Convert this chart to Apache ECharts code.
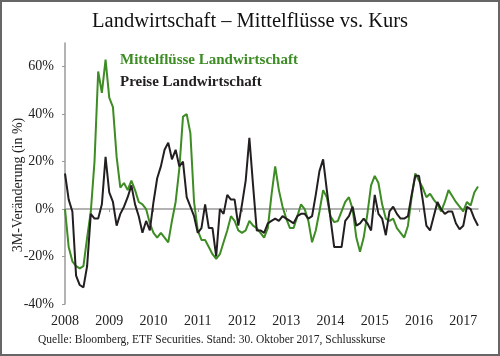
<!DOCTYPE html>
<html>
<head>
<meta charset="utf-8">
<script src="https://cdn.jsdelivr.net/npm/echarts@6/dist/echarts.min.js"></script>
<style>
html,body{margin:0;padding:0;background:#fff;}
#c{width:500px;height:356px;}
</style>
</head>
<body>
<div id="c"></div>
<script>
// Years shown on the x axis (monthly data from Jan 2008)
var years = ['2008','2009','2010','2011','2012','2013','2014','2015','2016','2017'];
// Tick labels of the y axis (percent)
var yTicks = [-40, -20, 0, 20, 40, 60];
// 3M change of fund flows, agriculture (%), monthly
var mittelfluesse = [
  0,-16,-22,-24,-25,-24,-12,-1,20,58,49,63,
  47,43,22,9,11,8,12,8,3,2,0,-6,
  -10,-12,-10,-12,-14,-5,3,17,39,40,32,3,
  -9,-13,-13,-16,-19,-21,-19,-14,-9,-3,-5,-9,
  -10,-9,-5,-7,-8,-10,-12,-8,6,18,8,1,
  -4,-8,-8,-3,2,0,-5,-14,-9,-1,8,5,
  -3,-5.5,-5,-1,3,5,0,-12,-18,-12,-2,10,
  14,11,2,-4,-5,-4,-8,-10,-12,-7,5,15,
  12,9,5,6.5,4,2,-1,3,8,5.5,3,1,
  -1,3,1.5,7,9.5
];
// 3M change of prices, agriculture (%), monthly
var preise = [
  15,4,-1,-28,-32,-33,-24,-2,-4,-4,2,22,
  7,3,-7,-2,1,5,10,2,-3,-10,-5,-9,
  3,13,18,25,28,21,25,18,20,5,1,-3,
  -10,-8,2,-8,-8,-20,0,-2,6,4,4,-7,
  2,12,30,10,-9,-9,-10,-6,-5,-4,-5,-3,
  -4,-5,-6,-3,-2,-2,-4,-3,6,16,21,8,
  -4,-16,-16,-16,-5,-3,1,-7,-6,-4,-6,-9,
  6,-2,-4,-11,-1,1,-2,-4,-4,-3,6,14,
  14,4,-7,-9,-3,3,0,-2,-1,-1,-6,-8.5,
  -7,1,0,-4,-7
];
var months = [];
for (var i = 0; i < mittelfluesse.length; i++) {
  var y = years[0] * 1 + Math.floor(i / 12);
  var mo = (i % 12) + 1;
  months.push(y + '-' + (mo < 10 ? '0' + mo : mo));
}
var green = '#3d8c24';
var dark = '#231f20';
var serif = '"Liberation Serif", "DejaVu Serif", serif';

var chart = echarts.init(document.getElementById('c'));
chart.setOption({
  animation: false,
  backgroundColor: '#fff',
  title: {
    text: 'Landwirtschaft \u2013 Mittelfl\u00fcsse vs. Kurs',
    left: 'center',
    top: 6,
    textStyle: {fontFamily: serif, fontSize: 20.5, fontWeight: 'normal', color: '#111'}
  },
  legend: {
    orient: 'vertical',
    left: 110,
    top: 48,
    icon: 'none',
    itemWidth: 0,
    itemHeight: 14,
    itemGap: 7,
    textStyle: {fontFamily: serif, fontSize: 15, fontWeight: 'bold'},
    data: [
      {name: 'Mittelfl\u00fcsse Landwirtschaft', textStyle: {color: green}},
      {name: 'Preise Landwirtschaft', textStyle: {color: dark}}
    ]
  },
  grid: {left: 65, right: 22, top: 43, bottom: 52},
  xAxis: [
    {
      type: 'category',
      data: months,
      boundaryGap: false,
      position: 'bottom',
      axisLine: {show: false, onZero: false},
      axisTick: {show: false},
      splitLine: {show: false},
      axisLabel: {
        interval: function (idx) { return idx % 12 === 0; },
        formatter: function (v) { return v.slice(0, 4); },
        margin: 10,
        fontFamily: serif, fontSize: 14, color: '#222'
      }
    },
    {
      type: 'category',
      data: months,
      boundaryGap: false,
      position: 'top',
      axisLine: {show: true, onZero: true, lineStyle: {color: '#9a9a9a', width: 1.5}},
      axisTick: {show: true, inside: true, length: 3, interval: function (idx) { return idx % 12 === 0; }, lineStyle: {color: '#9a9a9a'}},
      axisLabel: {show: false},
      splitLine: {show: false}
    }
  ],
  yAxis: {
    type: 'value',
    min: yTicks[0],
    max: 70,
    interval: 20,
    axisLine: {show: true, lineStyle: {color: '#9a9a9a', width: 1.5}},
    axisTick: {show: true, length: 3, lineStyle: {color: '#9a9a9a'}},
    splitLine: {show: false},
    axisLabel: {
      showMaxLabel: false,
      margin: 11,
      formatter: function (v) { return yTicks.indexOf(v) >= 0 ? v + '%' : ''; },
      fontFamily: serif, fontSize: 14, color: '#222'
    }
  },
  graphic: [
    {
      type: 'text',
      x: 18, y: 185,
      rotation: Math.PI / 2,
      style: {
        text: '3M-Ver\u00e4nderung (in %)',
        fontFamily: serif, fontSize: 14, fill: '#222',
        align: 'center', verticalAlign: 'middle'
      }
    },
    {
      type: 'text',
      x: 38, y: 340,
      style: {
        text: 'Quelle: Bloomberg, ETF Securities. Stand: 30. Oktober 2017, Schlusskurse',
        fontFamily: serif, fontSize: 11.5, fill: '#222',
        align: 'left', verticalAlign: 'middle'
      }
    },
    {
      type: 'rect',
      shape: {x: 1, y: 1, width: 498, height: 354},
      style: {fill: 'none', stroke: '#666', lineWidth: 2},
      silent: true
    }
  ],
  series: [
    {
      name: 'Mittelfl\u00fcsse Landwirtschaft',
      type: 'line',
      xAxisIndex: 0,
      data: mittelfluesse,
      showSymbol: false,
      lineStyle: {color: green, width: 2},
      itemStyle: {color: green},
      z: 2
    },
    {
      name: 'Preise Landwirtschaft',
      type: 'line',
      xAxisIndex: 0,
      data: preise,
      showSymbol: false,
      lineStyle: {color: dark, width: 2},
      itemStyle: {color: dark},
      z: 3
    }
  ]
});
</script>
</body>
</html>
